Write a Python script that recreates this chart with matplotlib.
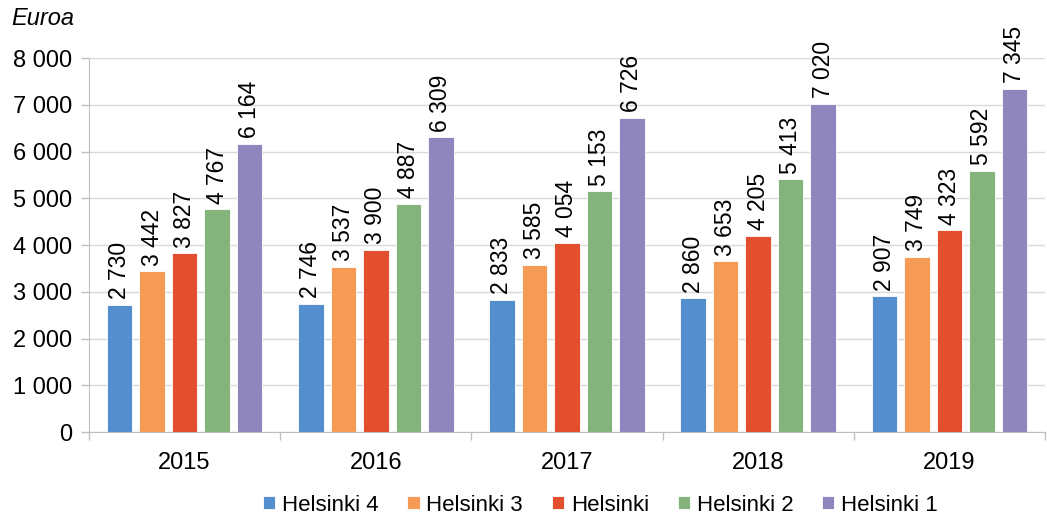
import matplotlib.pyplot as plt
import numpy as np

plt.rcParams['font.family'] = ['Liberation Sans', 'DejaVu Sans']

years = ['2015', '2016', '2017', '2018', '2019']
series = ['Helsinki 4', 'Helsinki 3', 'Helsinki', 'Helsinki 2', 'Helsinki 1']
values = {
    'Helsinki 4': [2730, 2746, 2833, 2860, 2907],
    'Helsinki 3': [3442, 3537, 3585, 3653, 3749],
    'Helsinki': [3827, 3900, 4054, 4205, 4323],
    'Helsinki 2': [4767, 4887, 5153, 5413, 5592],
    'Helsinki 1': [6164, 6309, 6726, 7020, 7345],
}
colors = ['#558ECE', '#F59B56', '#E34E2F', '#84B47B', '#8F86BD']


def fmt(v):
    return f'{v:,}'.replace(',', ' ')


fig = plt.figure(figsize=(10.47, 5.2), dpi=100)
ax = fig.add_axes([0.085, 0.169, 0.913, 0.719])

x = np.arange(len(years))
pitch = 0.17
width = 0.1335
for i, (name, c) in enumerate(zip(series, colors)):
    pos = x + (i - 2) * pitch
    ax.bar(pos, values[name], width=width, color=c, edgecolor='white',
           linewidth=0.6, label=name, zorder=3)
    for p, v in zip(pos, values[name]):
        ax.annotate(fmt(v), (p, v), xytext=(0, 4), textcoords='offset points',
                    rotation=90, ha='center', va='bottom', fontsize=16.5,
                    clip_on=False, zorder=4)

ax.set_xlim(-0.5, len(years) - 0.5)
ax.set_ylim(0, 8000)
ax.set_yticks(range(0, 8001, 1000))
ax.set_yticklabels([fmt(v) for v in range(0, 8001, 1000)], fontsize=17)
ax.yaxis.grid(True, color='#D9D9D9', linewidth=1, zorder=0)
ax.set_axisbelow(True)

ax.set_xticks(x)
ax.set_xticklabels(years, fontsize=17)
ax.tick_params(axis='x', length=0, pad=14)
ax.set_xticks(np.arange(-0.5, len(years)), minor=True)
ax.tick_params(axis='x', which='minor', length=6, color='#BFBFBF', width=1)
ax.tick_params(axis='y', length=6, color='#BFBFBF', width=1, pad=6)

for s in ['top', 'right']:
    ax.spines[s].set_visible(False)
for s in ['left', 'bottom']:
    ax.spines[s].set_color('#BFBFBF')

fig.text(0.011, 0.965, 'Euroa', fontsize=17, style='italic', va='center')

ax.legend(loc='center', bbox_to_anchor=(0.535, -0.195), ncol=5, frameon=False,
          fontsize=16, handlelength=0.55, handleheight=0.55, handletextpad=0.3,
          columnspacing=1.3)

fig.savefig('out.png', dpi=100)
